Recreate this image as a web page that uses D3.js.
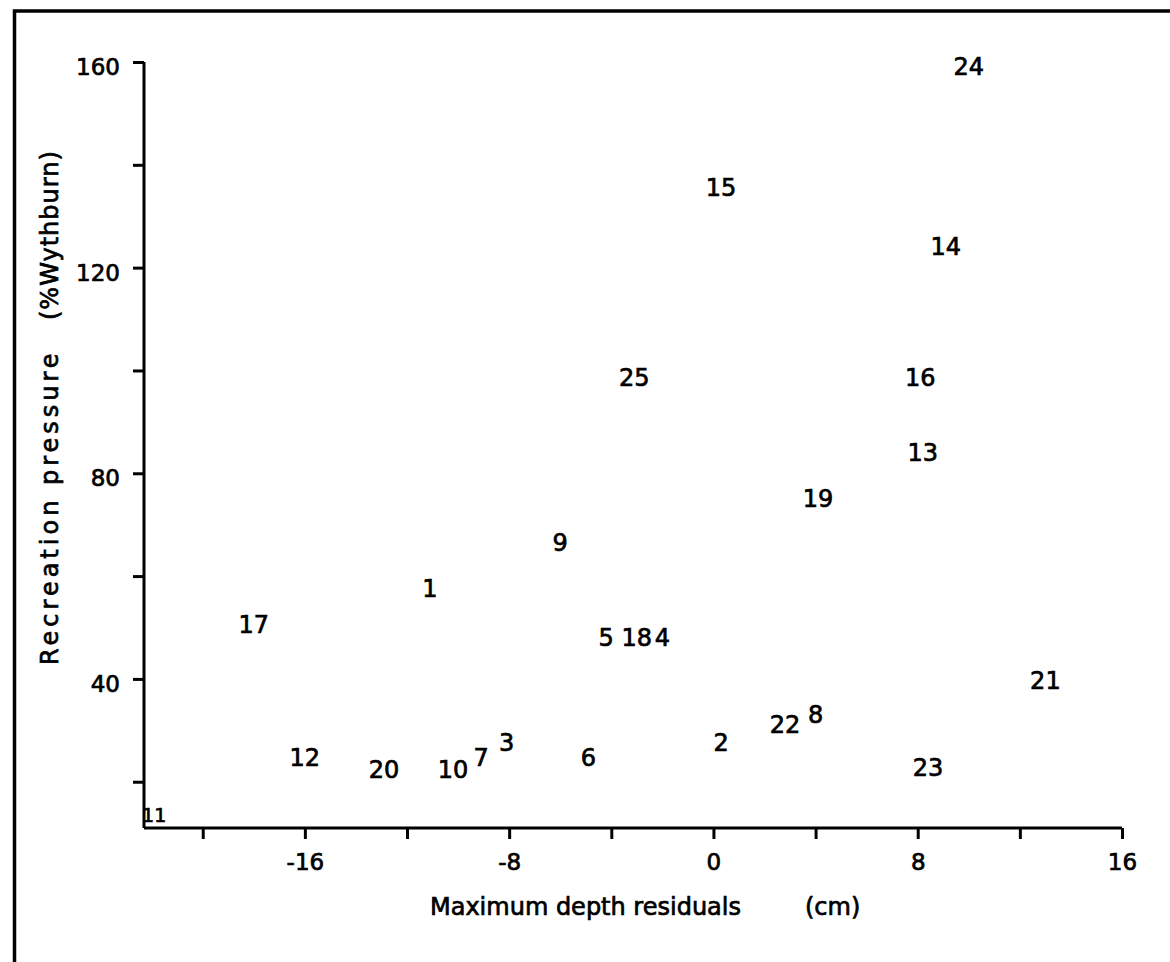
<!DOCTYPE html>
<html>
<head>
<meta charset="utf-8">
<script src="https://cdn.jsdelivr.net/npm/d3@7"></script>
<style>
  html, body { margin: 0; padding: 0; background: #fff; }
  svg text { font-family: "DejaVu Sans", sans-serif; fill: #000; stroke: #000; stroke-width: 0.7px; }
</style>
</head>
<body>
<svg id="chart" width="1170" height="962"></svg>
<script>
// Sites: maximum depth residual (cm) against recreation pressure (% of Wythburn)
const siteIds   = ["24", "15", "14", "25", "16", "13", "19", "9", "1", "17",
                   "5", "18", "4", "21", "8", "22", "23", "2", "6", "3",
                   "7", "10", "20", "12", "11"];
const residuals = [10.0, 0.3, 9.1, -3.1, 8.1, 8.2, 4.1, -6.0, -11.1, -18.0,
                   -4.2, -3.0, -2.0, 13.0, 4.0, 2.8, 8.4, 0.3, -4.9, -8.1,
                   -9.1, -10.2, -12.9, -16.0, -21.9];
const pressure  = [159, 135.5, 124, 98.5, 98.5, 84, 75, 66.5, 57.5, 50.5,
                   48, 48, 48, 39.5, 33, 31, 22.7, 27.5, 24.6, 27.5,
                   24.6, 22.3, 22.3, 24.6, 13.5];

const xTickValues = [-20, -16, -12, -8, -4, 0, 4, 8, 12, 16];
const xTickLabels = [-16, -8, 0, 8, 16];
const yTickValues = [20, 40, 60, 80, 100, 120, 140, 160];
const yTickLabels = [40, 80, 120, 160];

const svg = d3.select("#chart");

// outer frame (left and top rules)
svg.append("path")
  .attr("d", "M14.5,962 V11 H1170")
  .attr("fill", "none")
  .attr("stroke", "#000")
  .attr("stroke-width", 3.5);

const x = d3.scaleLinear().domain([-22.3, 16]).range([144, 1122]);
const y = d3.scaleLinear().domain([11, 160]).range([828, 62]);

// x axis
const xAxis = svg.append("g")
  .attr("transform", `translate(0,${y(11)})`)
  .call(d3.axisBottom(x)
    .tickValues(xTickValues)
    .tickSize(11)
    .tickPadding(15)
    .tickSizeOuter(0)
    .tickFormat(d => xTickLabels.includes(d) ? String(d) : ""));
xAxis.select(".domain").attr("stroke-width", 3).attr("d", `M${x(-22.3)},0H${x(16)}`);
xAxis.selectAll(".tick line").attr("stroke-width", 3);
xAxis.selectAll(".tick text").attr("font-size", 23);

// y axis
const yAxis = svg.append("g")
  .attr("transform", `translate(${x(-22.3)},0)`)
  .call(d3.axisLeft(y)
    .tickValues(yTickValues)
    .tickSize(11)
    .tickPadding(13)
    .tickSizeOuter(0)
    .tickFormat(d => yTickLabels.includes(d) ? String(d) : ""));
yAxis.select(".domain").attr("stroke-width", 3).attr("d", `M0,${y(160)}V${y(11)}`);
yAxis.selectAll(".tick line").attr("stroke-width", 3);
yAxis.selectAll(".tick text").attr("font-size", 23).attr("dy", "0.55em");

// site numbers plotted at their positions
svg.append("g")
  .selectAll("text")
  .data(siteIds)
  .join("text")
  .attr("x", (d, i) => x(residuals[i]))
  .attr("y", (d, i) => y(pressure[i]))
  .attr("text-anchor", "middle")
  .attr("dominant-baseline", "central")
  .attr("font-size", d => d === "11" ? 19 : 24)
  .text(d => d);

// axis titles
svg.append("text")
  .attr("x", 430).attr("y", 915)
  .attr("font-size", 24)
  .text("Maximum depth residuals");
svg.append("text")
  .attr("x", 805).attr("y", 915)
  .attr("font-size", 24)
  .text("(cm)");

svg.append("text")
  .attr("transform", "translate(58,665) rotate(-90)")
  .attr("font-size", 24)
  .attr("letter-spacing", 4)
  .text("Recreation pressure");
svg.append("text")
  .attr("transform", "translate(58,320) rotate(-90)")
  .attr("font-size", 24)
  .attr("letter-spacing", 1)
  .text("(%Wythburn)");
</script>
</body>
</html>
